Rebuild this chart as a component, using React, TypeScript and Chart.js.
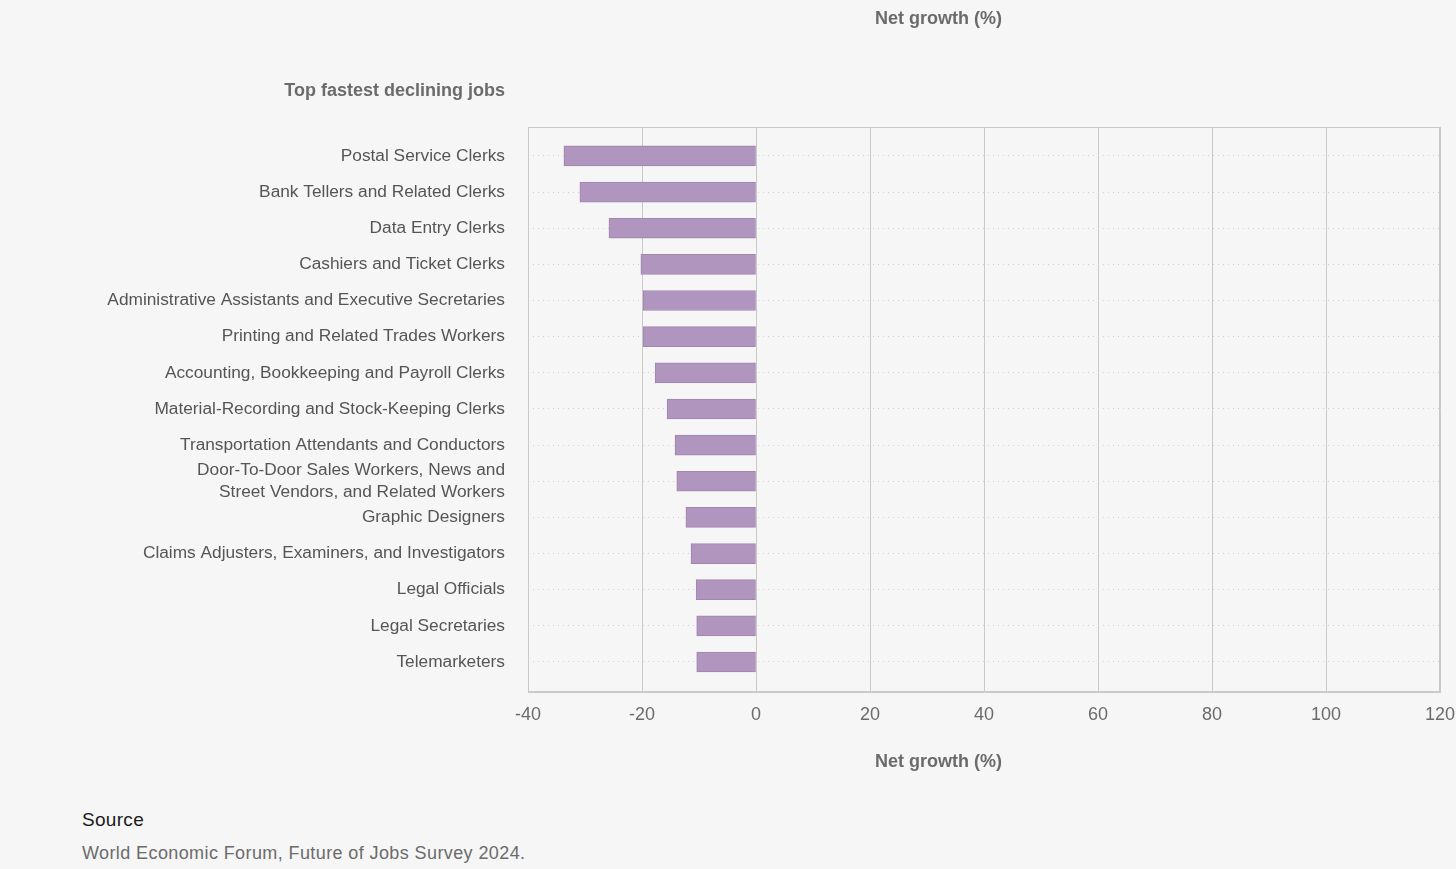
import React, { useEffect, useRef } from "react";
import { Chart, registerables } from "chart.js";

Chart.register(...registerables);

const categories: string[] = [
  "Postal Service Clerks",
  "Bank Tellers and Related Clerks",
  "Data Entry Clerks",
  "Cashiers and Ticket Clerks",
  "Administrative Assistants and Executive Secretaries",
  "Printing and Related Trades Workers",
  "Accounting, Bookkeeping and Payroll Clerks",
  "Material-Recording and Stock-Keeping Clerks",
  "Transportation Attendants and Conductors",
  "Door-To-Door Sales Workers, News and\nStreet Vendors, and Related Workers",
  "Graphic Designers",
  "Claims Adjusters, Examiners, and Investigators",
  "Legal Officials",
  "Legal Secretaries",
  "Telemarketers",
];

const netGrowth: number[] = [
  -33.7, -30.9, -25.8, -20.2, -19.8, -19.8, -17.7, -15.6, -14.2, -13.9, -12.3, -11.4, -10.5, -10.4, -10.4,
];

const xMin = -40;
const xMax = 120;
const xStep = 20;

const axisTitle = "Net growth (%)";
const groupTitle = "Top fastest declining jobs";
const sourceLabel = "Source";
const sourceText = "World Economic Forum, Future of Jobs Survey 2024.";

const FONT = "'Liberation Sans', Arial, Helvetica, sans-serif";

const titlesPlugin = {
  id: "titlesPlugin",
  beforeDatasetsDraw(chart: any) {
    const { ctx, chartArea } = chart;
    ctx.save();
    ctx.strokeStyle = "#c9c9c9";
    ctx.lineWidth = 1;
    ctx.strokeRect(
      Math.round(chartArea.left) + 0.5,
      Math.round(chartArea.top) + 0.5,
      Math.round(chartArea.width) - 1,
      Math.round(chartArea.height) - 1
    );
    ctx.restore();
  },
  afterDraw(chart: any) {
    const { ctx, chartArea } = chart;
    ctx.save();
    ctx.fillStyle = "#6b6b6b";
    ctx.font = `bold 18px ${FONT}`;
    ctx.textBaseline = "middle";
    const cx = chartArea.left + chartArea.width * 0.45;
    ctx.textAlign = "center";
    ctx.fillText(axisTitle, cx, 19);
    ctx.fillText(axisTitle, cx, 762);
    ctx.textAlign = "right";
    ctx.fillText(groupTitle, chartArea.left - 23, 91);
    ctx.restore();
  },
};

export default function App() {
  const canvasRef = useRef<HTMLCanvasElement | null>(null);

  useEffect(() => {
    document.body.style.margin = "0";
    document.body.style.background = "#f6f6f6";
    const canvas = canvasRef.current;
    if (!canvas) return;
    const chart = new Chart(canvas, {
      type: "bar",
      data: {
        datasets: [
          {
            label: axisTitle,
            data: netGrowth.map((v, i) => ({ x: v, y: i })),
            backgroundColor: "#b096be",
            borderColor: "#a285b1",
            borderWidth: 1,
            borderSkipped: false,
            barThickness: 20,
          },
        ],
      },
      options: {
        indexAxis: "y",
        responsive: false,
        animation: false,
        devicePixelRatio: 1,
        layout: { padding: { top: 127, right: 16, bottom: 48, left: 0 } },
        plugins: {
          legend: { display: false },
          tooltip: { enabled: false },
          title: { display: false },
        },
        scales: {
          x: {
            type: "linear",
            min: xMin,
            max: xMax,
            ticks: {
              stepSize: xStep,
              padding: 12,
              color: "#6b6b6b",
              font: { family: FONT, size: 18 },
            },
            grid: { color: "#c9c9c9", lineWidth: 1, drawTicks: false },
            border: { display: true, color: "#c9c9c9" },
            afterFit(scale: any) {
              scale.height = 60;
              scale.paddingLeft = 0;
              scale.paddingRight = 0;
            },
          },
          y: {
            type: "linear",
            reverse: true,
            offset: false,
            min: -0.8,
            max: 14.83,
            ticks: {
              stepSize: 1,
              includeBounds: false,
              autoSkip: false,
              maxTicksLimit: 40,
              padding: 23,
              color: "#555555",
              font: { family: FONT, size: 17.3, lineHeight: 1.28 },
              callback: (v: any) => {
                const n = Number(v);
                if (!Number.isInteger(n) || !categories[n]) return "";
                return categories[n].split("\n");
              },
            },
            grid: {
              offset: false,
              drawTicks: false,
              color: (ctx: any) =>
                ctx.tick && Number.isInteger(ctx.tick.value) ? "#d2d2d2" : "rgba(0,0,0,0)",
            },
            border: { display: false, dash: [1, 4] },
            afterFit(scale: any) {
              scale.width = 528;
              scale.paddingTop = 0;
              scale.paddingBottom = 0;
            },
          },
        },
      } as any,
      plugins: [titlesPlugin],
    });
    return () => chart.destroy();
  }, []);

  return (
    <div style={{ position: "relative", width: 1456, height: 869, background: "#f6f6f6", overflow: "hidden" }}>
      <canvas ref={canvasRef} width={1456} height={800} style={{ display: "block" }} />
      <div
        style={{
          position: "absolute",
          left: 82,
          top: 809,
          fontFamily: FONT,
          fontSize: 19,
          color: "#1a1a1a",
          letterSpacing: 0.3,
        }}
      >
        {sourceLabel}
      </div>
      <div
        style={{
          position: "absolute",
          left: 82,
          top: 843,
          fontFamily: FONT,
          fontSize: 18,
          color: "#6b6b6b",
          letterSpacing: 0.4,
        }}
      >
        {sourceText}
      </div>
    </div>
  );
}
